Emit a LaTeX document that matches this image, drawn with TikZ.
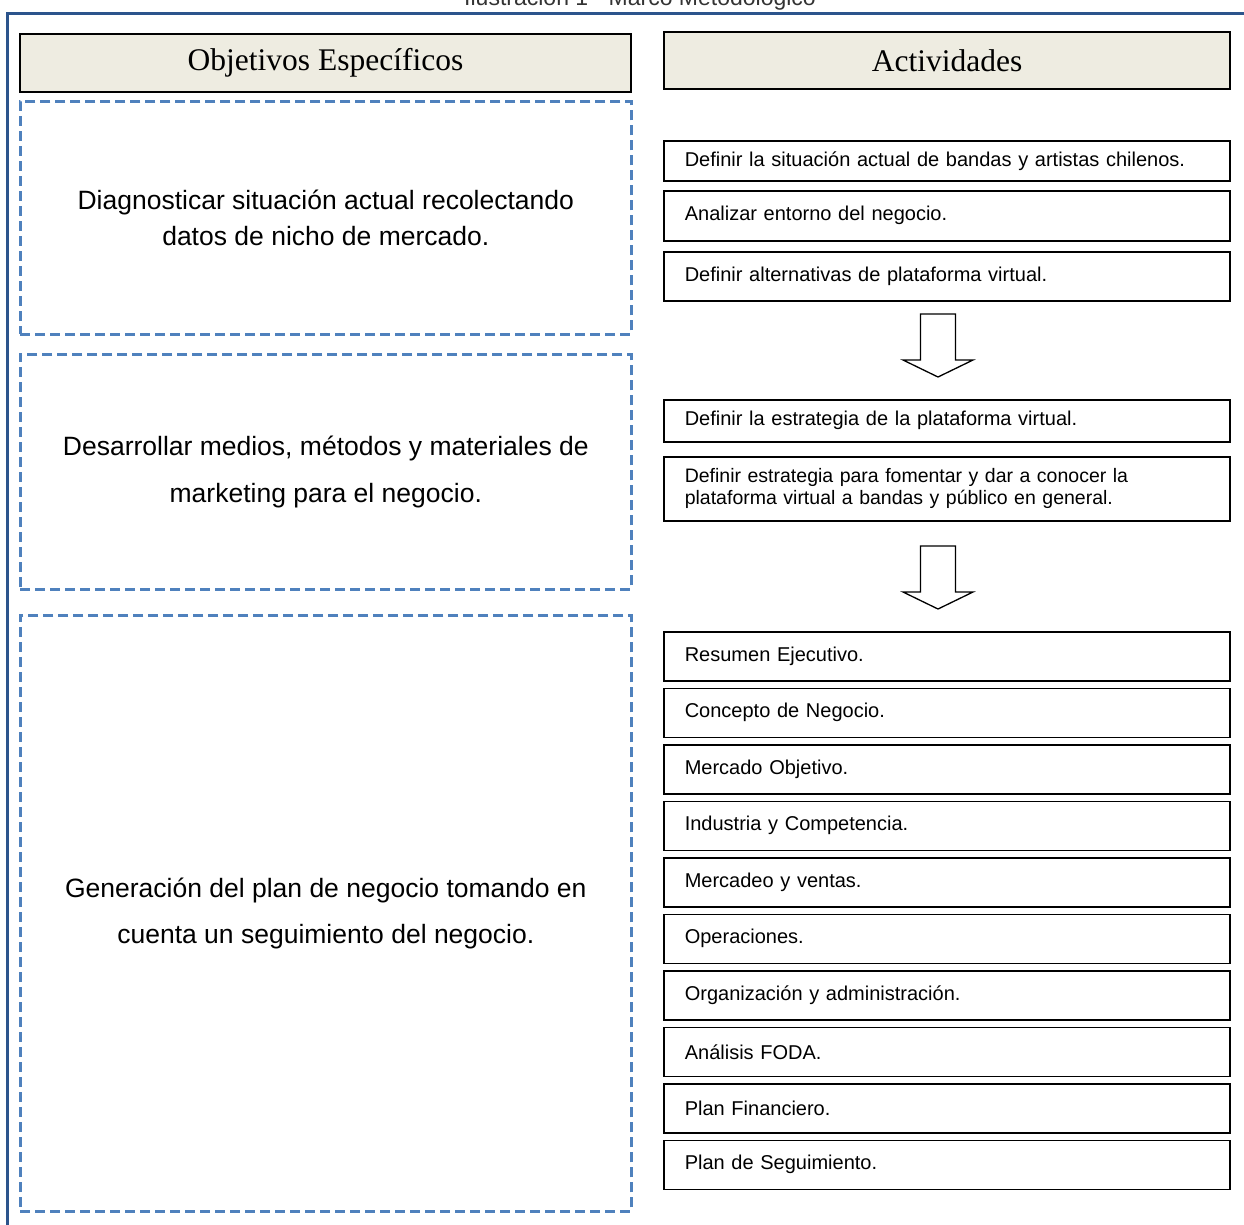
\documentclass[tikz,border=0pt]{standalone}
\usepackage{fontspec}
\setmainfont{Liberation Serif}
\setsansfont{Liberation Sans}
\usetikzlibrary{positioning}
\definecolor{marco}{RGB}{44,84,140}
\definecolor{guion}{RGB}{79,129,189}
\definecolor{beige}{RGB}{238,236,225}
\tikzset{
  encabezado/.style={draw, line width=2pt, fill=beige, anchor=north west,
    minimum width=611pt, font=\rmfamily\fontsize{31.5}{34}\selectfont},
  objetivo/.style={draw=guion, line width=2.6pt, dash pattern=on 10pt off 5pt,
    anchor=north west, minimum width=611pt, align=center},
  actividad/.style={draw, line width=1.6pt, anchor=north west, text width=524pt,
    inner xsep=21pt, align=left, font=\sffamily\fontsize{20}{23}\selectfont},
  flechabloque/.style={draw, line width=1.3pt, fill=white, line join=miter}
}
\newcommand\flechaabajo[1]{%
  \draw[flechabloque] (#1) ++(-17.5,0) -- ++(35,0) -- ++(0,46) -- ++(17.5,0)
    -- ++(-35,17) -- ++(-35,-17) -- ++(17.5,0) -- cycle;}
\begin{document}
\begin{tikzpicture}[x=1pt, y=-1pt]
  \useasboundingbox (0,0) rectangle (1244,1224);
  % marco y titulo
  \node[anchor=base, font=\sffamily\fontsize{23}{26}\selectfont, text=black!80] (titulo) at (640,5) {Ilustración 1 - Marco Metodológico};
  \draw[marco, line width=3pt] (7,1240) |- (1260,13);

  % encabezados
  \node[encabezado, minimum height=58pt] (objetivos) at (19,33) {Objetivos Específicos};
  \node[encabezado, minimum height=57pt, minimum width=566pt] (actividades) at (663,31) {Actividades};

  % objetivos especificos
  \node[objetivo, minimum height=233pt, font=\sffamily\fontsize{26.5}{36}\selectfont] (obj1) at (19,100)
    {Diagnosticar situación actual recolectando\\datos de nicho de mercado.};
  \node[objetivo, minimum height=235pt, font=\sffamily\fontsize{26.5}{47}\selectfont] (obj2) at (19,353)
    {Desarrollar medios, métodos y materiales de\\marketing para el negocio.};
  \node[objetivo, minimum height=596pt, font=\sffamily\fontsize{26.5}{46}\selectfont] (obj3) at (19,614)
    {Generación del plan de negocio tomando en\\cuenta un seguimiento del negocio.};

  % actividades
  \node[actividad, minimum height=40pt] (act1) at (663,140) {Definir la situación actual de bandas y artistas chilenos.};
  \node[actividad, minimum height=50pt] (act2) at (663,190) {Analizar entorno del negocio.};
  \node[actividad, minimum height=49pt] (act3) at (663,251) {Definir alternativas de plataforma virtual.};
  \coordinate (fA) at (938,314);
  \flechaabajo{fA}

  \node[actividad, minimum height=42pt] (act4) at (663,399) {Definir la estrategia de la plataforma virtual.};
  \node[actividad, minimum height=64pt, font=\sffamily\fontsize{19.5}{22}\selectfont] (act5) at (663,456)
    {Definir estrategia para fomentar y dar a conocer la\\plataforma virtual a bandas y público en general.};
  \coordinate (fB) at (938,546);
  \flechaabajo{fB}

  \foreach \txt [count=\i from 0] in {Resumen Ejecutivo., Concepto de Negocio., Mercado Objetivo.,
      Industria y Competencia., Mercadeo y ventas., Operaciones., Organización y administración.,
      Análisis FODA., Plan Financiero., Plan de Seguimiento.}
    \node[actividad, minimum height=49pt] (plan\i) at (663,631+56.5*\i) {\txt};
\end{tikzpicture}
\end{document}
